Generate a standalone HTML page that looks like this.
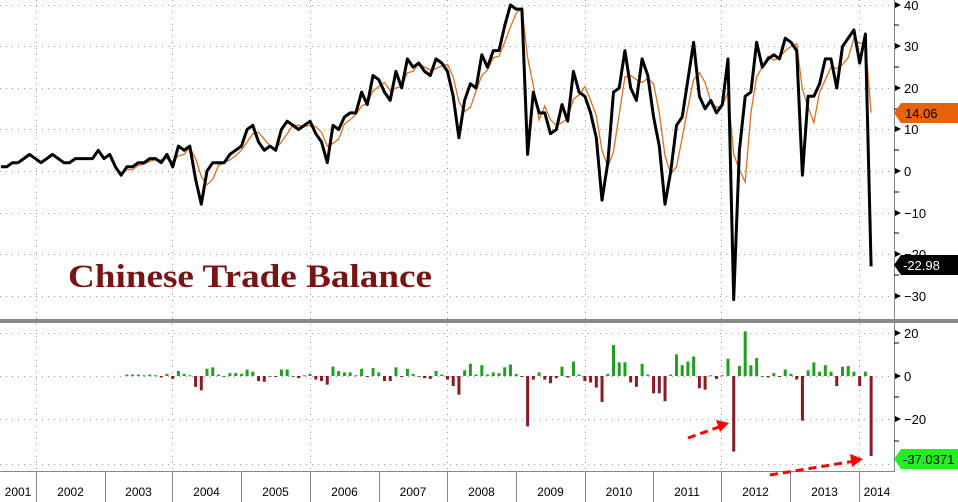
<!DOCTYPE html>
<html><head><meta charset="utf-8"><style>
html,body{margin:0;padding:0;background:#fff;}
svg{display:block;font-family:"Liberation Sans",sans-serif;}
</style></head><body>
<svg id="c" width="958" height="502" xmlns="http://www.w3.org/2000/svg">
<rect width="958" height="502" fill="#fff"/>
<g id="grid" stroke="#999" stroke-width="1" stroke-dasharray="1,5"></g>
<line x1="0" y1="321" x2="958" y2="321" stroke="#888" stroke-width="4"/>
<line x1="894.5" y1="0" x2="894.5" y2="472" stroke="#888" stroke-width="1"/>
<line x1="0" y1="471.5" x2="895" y2="471.5" stroke="#888" stroke-width="1"/>
<g id="bars"></g>
<g id="lines"></g>
<g id="axis" font-size="13" fill="#000"></g>
<text x="68" y="287" font-family="Liberation Serif,serif" font-weight="bold" font-size="33" fill="#7a1414" textLength="364" lengthAdjust="spacingAndGlyphs">Chinese Trade Balance</text>
<g stroke="#f00" stroke-width="3" stroke-dasharray="8,5" fill="none">
<line x1="688" y1="438" x2="722" y2="426"/>
<line x1="770" y1="475" x2="855" y2="461"/>
</g>
<polygon points="729,423 716,420 720,432" fill="#f00"/>
<polygon points="863,459 850,454 852,467" fill="#f00"/>
<polygon points="894,113 901,103 958,103 958,123 901,123" fill="#e8620a"/>
<text x="905" y="118" font-size="13" fill="#000">14.06</text>
<polygon points="894,265 901,255 958,255 958,275 901,275" fill="#000"/>
<text x="903" y="270" font-size="13" fill="#fff">-22.98</text>
<polygon points="894,459 901,449 958,449 958,469 901,469" fill="#22ee22"/>
<text x="903" y="464" font-size="13" fill="#000">-37.0371</text>
</svg>
<script>
var blk=[1,1,2,2,3,4,3,
2,3,4,3,2,2,3,3,3,3,5,3,
4,1,-1,1,1,2,2,3,3,2,4,1,
6,5,6,-2,-8,0,2,2,2,4,5,6,
10,11,7,5,6,5,10,12,11,10,11,12,
9,7,2,11,10,13,14,14,19,16,23,22,
19,17,24,20,27,25,26,24,23,27,26,24,
18,8,17,21,20,28,25,29,29,35,40,39,
39,4,19,14,14,9,10,16,12,24,19,18,
14,8,-7,2,19,20,29,20,17,27,23,13,
6,-8,0,11,13,22,31,18,15,17,14,16,
27,-31,5,18,19,31,25,27,28,27,32,31,
29,-1,18,18,21,27,27,20,30,32,34,26,33,-23];
var m0=5,NS="http://www.w3.org/2000/svg",P=5.725;
function X(i){return 36+(m0+i-12)*P+5;}
function Y(v){return 171-v*4.15;}
function YB(v){return 376-v*2.16;}
function el(t,a,p){var e=document.createElementNS(NS,t);for(var k in a)e.setAttribute(k,a[k]);if(p)p.appendChild(e);return e;}
var g=document.getElementById('grid');
[5,46,88,129,171,213,254,296,333,376,419,464].forEach(function(y){el('line',{x1:0,y1:y+.5,x2:894,y2:y+.5},g);});
[36,172,310,447,585,721,859].forEach(function(x){el('line',{x1:x+.5,y1:0,x2:x+.5,y2:471},g);});
var ax=document.getElementById('axis');
var ylab=[[40,5],[30,46],[20,88],[10,129],[0,171],[-10,213],[-20,254],[-30,296],[20,333],[0,376],[-20,419]];
ylab.forEach(function(a){el('polygon',{points:'895,'+(a[1]-3)+' 901,'+a[1]+' 895,'+(a[1]+3)},ax);
 var t=el('text',{x:904,y:a[1]+5},ax);t.textContent=(a[0]<0?'\u2212'+(-a[0]):a[0]);});
[25,67,109,150,192,233,275,343,397,441].forEach(function(y){el('line',{x1:894,y1:y,x2:899,y2:y,stroke:'#000'},ax);});
var yrs=[36,105,172,241,310,379,447,516,585,653,721,790,859];
yrs.forEach(function(x){el('line',{x1:x+.5,y1:471,x2:x+.5,y2:502,stroke:'#888'},ax);});
for(var k=0;k<14;k++){var cx=(k==0?18:(k==13?877:(yrs[k-1]+yrs[k])/2));var t=el('text',{x:cx,y:496,'text-anchor':'middle','font-size':'12'},ax);t.textContent=2001+k;}
var org=[];for(var i=0;i<blk.length;i++){if(i<22)org.push(null);else org.push((blk[i]+blk[i-1]+blk[i-2])/3);}
org[org.length-1]=14.06;
var L=document.getElementById('lines'),B=document.getElementById('bars');
for(var i=22;i<blk.length;i++){var d=blk[i]-org[i];var y0=YB(0),y1=YB(d);
 el('rect',{x:X(i)-1.5,y:Math.min(y0,y1),width:3,height:Math.max(1,Math.abs(y1-y0)),fill:d>=0?'#1fa01f':'#8b1a24'},B);}
var po='';for(var i=22;i<blk.length;i++)po+=X(i).toFixed(1)+','+Y(org[i]).toFixed(1)+' ';
el('polyline',{points:po,fill:'none',stroke:'#e07020','stroke-width':1.3},L);
var pb='';for(var i=0;i<blk.length;i++)pb+=X(i).toFixed(1)+','+Y(blk[i]).toFixed(1)+' ';
el('polyline',{points:pb,fill:'none',stroke:'#000','stroke-width':3,'stroke-linejoin':'round'},L);
</script>
</body></html>
